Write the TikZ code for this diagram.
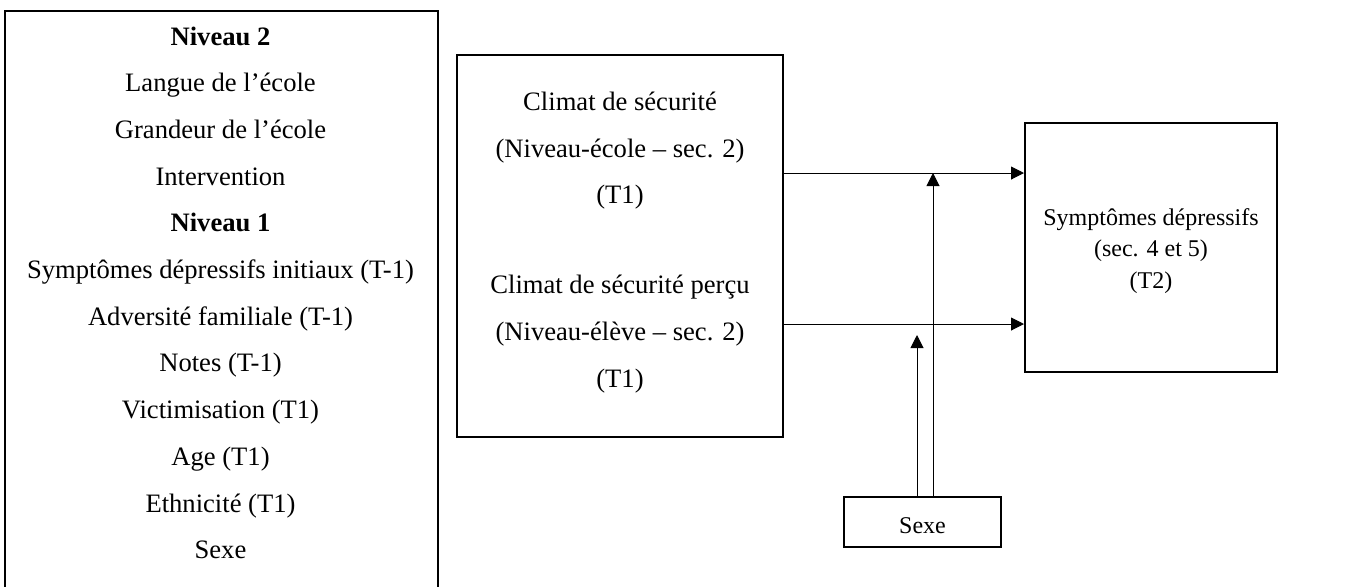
\documentclass[tikz,border=0pt]{standalone}
\usepackage{fontspec}
\setmainfont{Liberation Serif}
\usetikzlibrary{arrows.meta,positioning}

\begin{document}
\begin{tikzpicture}[x=0.5pt, y=-0.5pt,
    box/.style={draw, line width=1pt, inner sep=0pt},
    txt/.style={font=\fontsize{13.3}{16}\selectfont, inner sep=0pt},
    small/.style={font=\fontsize{12}{15.75}\selectfont},
    arr/.style={line width=0.5pt, -{Triangle[length=6.5pt, width=6.5pt]}}]
    \useasboundingbox (0, 0) rectangle (1350, 586);

    % covariables
    \node [box, anchor=north west, minimum width=216.5pt,
      minimum height=295pt] (covar) at (4, 10) {};
    \foreach \t [count=\i] in {{\textbf{Niveau 2}}, Langue de l'école,
        Grandeur de l'école, Intervention, {\textbf{Niveau 1}},
        Symptômes dépressifs initiaux (T-1), Adversité familiale (T-1),
        Notes (T-1), Victimisation (T1), Age (T1), Ethnicité (T1), Sexe} {
      \node [txt, anchor=base] (cov\i) at (220.5, 45 + 46.7*\i - 46.7) {\t};
    }

    % climat
    \node [box, minimum width=163pt, minimum height=191pt] (climat) at (620, 246) {};
    \foreach \t/\y [count=\i] in {Climat de sécurité/110,
        (Niveau-école – sec. 2)/157, (T1)/203,
        Climat de sécurité perçu/293,
        (Niveau-élève – sec. 2)/340, (T1)/387} {
      \node [txt, anchor=base] (clim\i) at (620, \y) {\t};
    }

    % outcome
    \node [box, minimum width=126pt, minimum height=124.5pt] (sympt)
      at (1151, 247.5) {};
    \node [txt, small, anchor=base, align=center] (symptxt) at (1151, 288)
      {Symptômes dépressifs\\(sec. 4 et 5)\\(T2)};

    % moderator
    \node [box, minimum width=78.5pt, minimum height=25pt] (sexe)
      at (922.5, 522) {};
    \node [txt, small, anchor=base] (sexetxt) at (922.5, 533) {Sexe};

    % paths
    \coordinate (top) at (0, 173);
    \coordinate (bot) at (0, 324);
    \draw [arr] (climat.east |- top) -- (sympt.west |- top);
    \draw [arr] (climat.east |- bot) -- (sympt.west |- bot);

    \coordinate (mod1) at (933, 173);
    \coordinate (mod2) at (917, 335);
    \draw [arr] (sexe.north -| mod1) -- (mod1);
    \draw [arr] (sexe.north -| mod2) -- (mod2);
  \end{tikzpicture}
\end{document}
